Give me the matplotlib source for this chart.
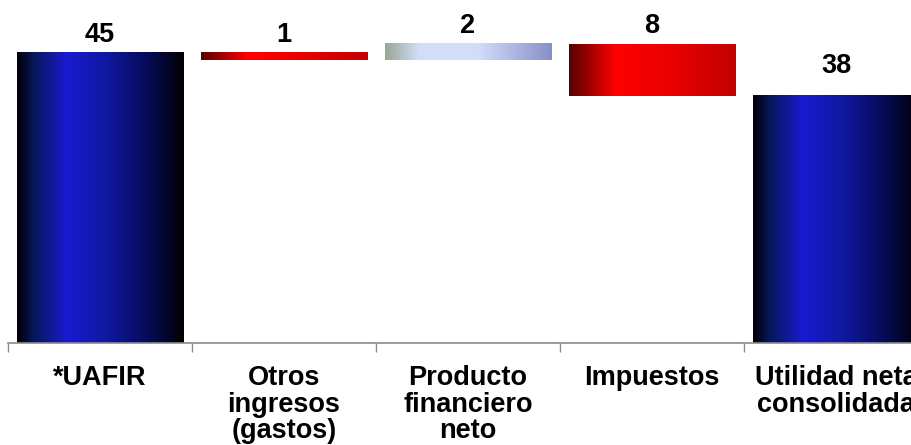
import numpy as np
import matplotlib
matplotlib.use("Agg")
import matplotlib.pyplot as plt
from matplotlib.colors import LinearSegmentedColormap

plt.rcParams['font.family'] = ['Liberation Sans', 'DejaVu Sans']

categories = ['*UAFIR', 'Otros\ningresos\n(gastos)', 'Producto\nfinanciero\nneto',
              'Impuestos', 'Utilidad neta\nconsolidada']
values = [44.9, -1.1, 2.5, -8.0, 38.3]
kinds = ['total', 'delta', 'delta', 'delta', 'total']

# gradients (left -> right)
blue = LinearSegmentedColormap.from_list('blue', [
    (0.0, '#000008'), (0.1, '#08165a'), (0.3, '#1a1ad2'),
    (0.55, '#0f179c'), (0.8, '#060a52'), (1.0, '#000000')])
red = LinearSegmentedColormap.from_list('red', [
    (0.0, '#580000'), (0.28, '#ff0000'), (0.65, '#e60000'), (1.0, '#c00000')])
pale = LinearSegmentedColormap.from_list('pale', [
    (0.0, '#98a890'), (0.2, '#d2ddf8'), (0.55, '#d4defa'), (1.0, '#8690c8')])

fig = plt.figure(figsize=(9.12, 4.45), dpi=100)
ax = fig.add_axes([8 / 912, 102 / 445, 920 / 912, 323 / 445])

grad = np.linspace(0, 1, 256).reshape(1, -1)
width = 0.906
running = 0.0
label_gap = [5, 5, 5, 5, 17]  # px between bar top and label box
for i, (v, k) in enumerate(zip(values, kinds)):
    if k == 'total':
        lo, hi = 0.0, v
        running = v
        cmap = blue
    else:
        start = running
        running = running + v
        lo, hi = min(start, running), max(start, running)
        cmap = red if v < 0 else pale
    ax.imshow(grad, extent=[i - width / 2, i + width / 2, lo, hi],
              aspect='auto', cmap=cmap, interpolation='bilinear', zorder=2)
    ax.annotate(f'{abs(round(v)):.0f}', (i, hi), xytext=(0, label_gap[i] * 0.72),
                textcoords='offset points', ha='center', va='bottom',
                fontsize=19.5, fontweight='bold', annotation_clip=False)

ax.set_xlim(-0.5, len(values) - 0.5)
ax.set_ylim(0, 50)
ax.set_yticks([])
for s in ['top', 'right', 'left']:
    ax.spines[s].set_visible(False)
ax.spines['bottom'].set_color('#8c8c8c')
ax.spines['bottom'].set_linewidth(1.2)

ax.set_xticks(range(len(categories)))
ax.set_xticklabels(categories, fontsize=19.5, fontweight='bold', linespacing=1.02)
ax.tick_params(axis='x', which='major', length=0, pad=16)
ax.set_xticks(np.arange(-0.5, len(values) + 0.5, 1), minor=True)
ax.tick_params(axis='x', which='minor', length=6.5, color='#8c8c8c', width=1)

fig.savefig('out.png', dpi=100)
